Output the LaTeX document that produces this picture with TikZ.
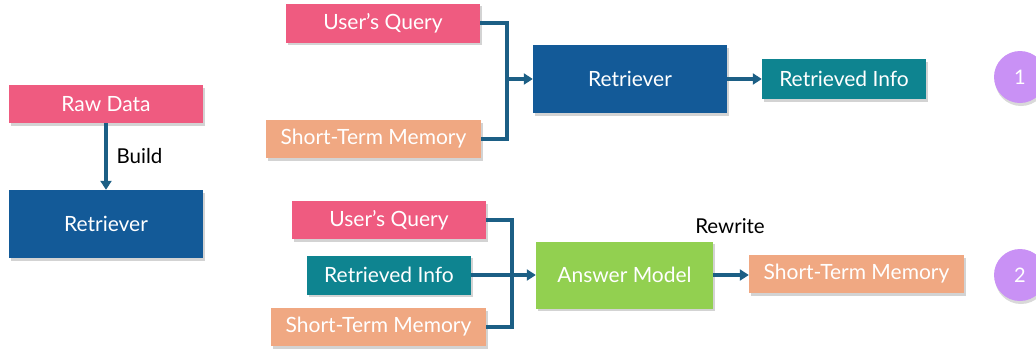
\documentclass[tikz,border=0pt]{standalone}
\usepackage{fontspec}
\setmainfont{Lato}
\usetikzlibrary{arrows.meta,shadows}
\definecolor{cpink}{HTML}{EF5B80}
\definecolor{csalmon}{HTML}{F0A882}
\definecolor{cblue}{HTML}{135A98}
\definecolor{cteal}{HTML}{0E8490}
\definecolor{cgreen}{HTML}{92D050}
\definecolor{cline}{HTML}{1C5F85}
\definecolor{cpurple}{HTML}{C991F5}
\tikzset{
  box/.style={rectangle, draw=none, text=white, font=\fontsize{21}{24}\selectfont,
    inner sep=0pt, drop shadow={opacity=0.35, shadow xshift=1.5pt, shadow yshift=-2.5pt}},
  conn/.style={draw=cline, line width=3.2pt},
  arr/.style={conn, -{Triangle[length=9pt,width=11pt]}},
  lbl/.style={font=\fontsize{20.5}{24}\selectfont, text=black, inner sep=0pt},
  badge/.style={circle, fill=cpurple, text=white, minimum size=52pt, inner sep=0pt,
    font=\fontsize{20}{24}\selectfont,
    drop shadow={opacity=0.3, shadow xshift=1pt, shadow yshift=-3pt}}
}
\begin{document}
\begin{tikzpicture}[x=1pt,y=-1pt]
\useasboundingbox (0,0) rectangle (1036,349);
\clip (0,0) rectangle (1036,349);
% left
\node[box, fill=cpink, minimum width=194pt, minimum height=38pt] (raw) at (106,104) {Raw Data};
\node[box, fill=cblue, minimum width=194pt, minimum height=68pt] (retL) at (106,224) {Retriever};
\draw[arr] (raw.south) -- (retL.north) node[midway, right=9pt, lbl] (build) {Build};
% top row
\node[box, fill=cpink, minimum width=194pt, minimum height=39pt] (uq1) at (383,23) {User’s Query};
\node[box, fill=csalmon, minimum width=215pt, minimum height=38pt] (stm1) at (373.5,139) {Short-Term Memory};
\node[box, fill=cblue, minimum width=194pt, minimum height=68pt] (ret1) at (630,79) {Retriever};
\node[box, fill=cteal, minimum width=164pt, minimum height=40pt] (ri1) at (844,79) {Retrieved Info};
\coordinate (j1) at (507,79);
\draw[conn] (uq1.east) -| (j1);
\draw[conn] (stm1.east) -| (j1);
\draw[arr] (j1) -- (ret1.west);
\draw[arr] (ret1.east) -- (ri1.west);
% bottom row
\node[box, fill=cpink, minimum width=194pt, minimum height=38pt] (uq2) at (389,220) {User’s Query};
\node[box, fill=cteal, minimum width=164pt, minimum height=39pt] (ri2) at (389,275) {Retrieved Info};
\node[box, fill=csalmon, minimum width=215pt, minimum height=38pt] (stm2) at (378.5,327) {Short-Term Memory};
\node[box, fill=cgreen, minimum width=177pt, minimum height=67pt] (am) at (624.5,275) {Answer Model};
\node[box, fill=csalmon, minimum width=215pt, minimum height=38pt] (stm3) at (856.5,274) {Short-Term Memory};
\coordinate (j2) at (512,275);
\draw[conn] (uq2.east) -| (j2);
\draw[conn] (stm2.east) -| (j2);
\draw[arr] (ri2.east) -- (am.west);
\draw[arr] (am.east) -- (am.east -| stm3.west);
\node[lbl] (rw) at (730,226) {Rewrite};
% badges
\node[badge] (b1) at (1020,77) {1};
\node[badge] (b2) at (1020,275) {2};
\end{tikzpicture}
\end{document}
